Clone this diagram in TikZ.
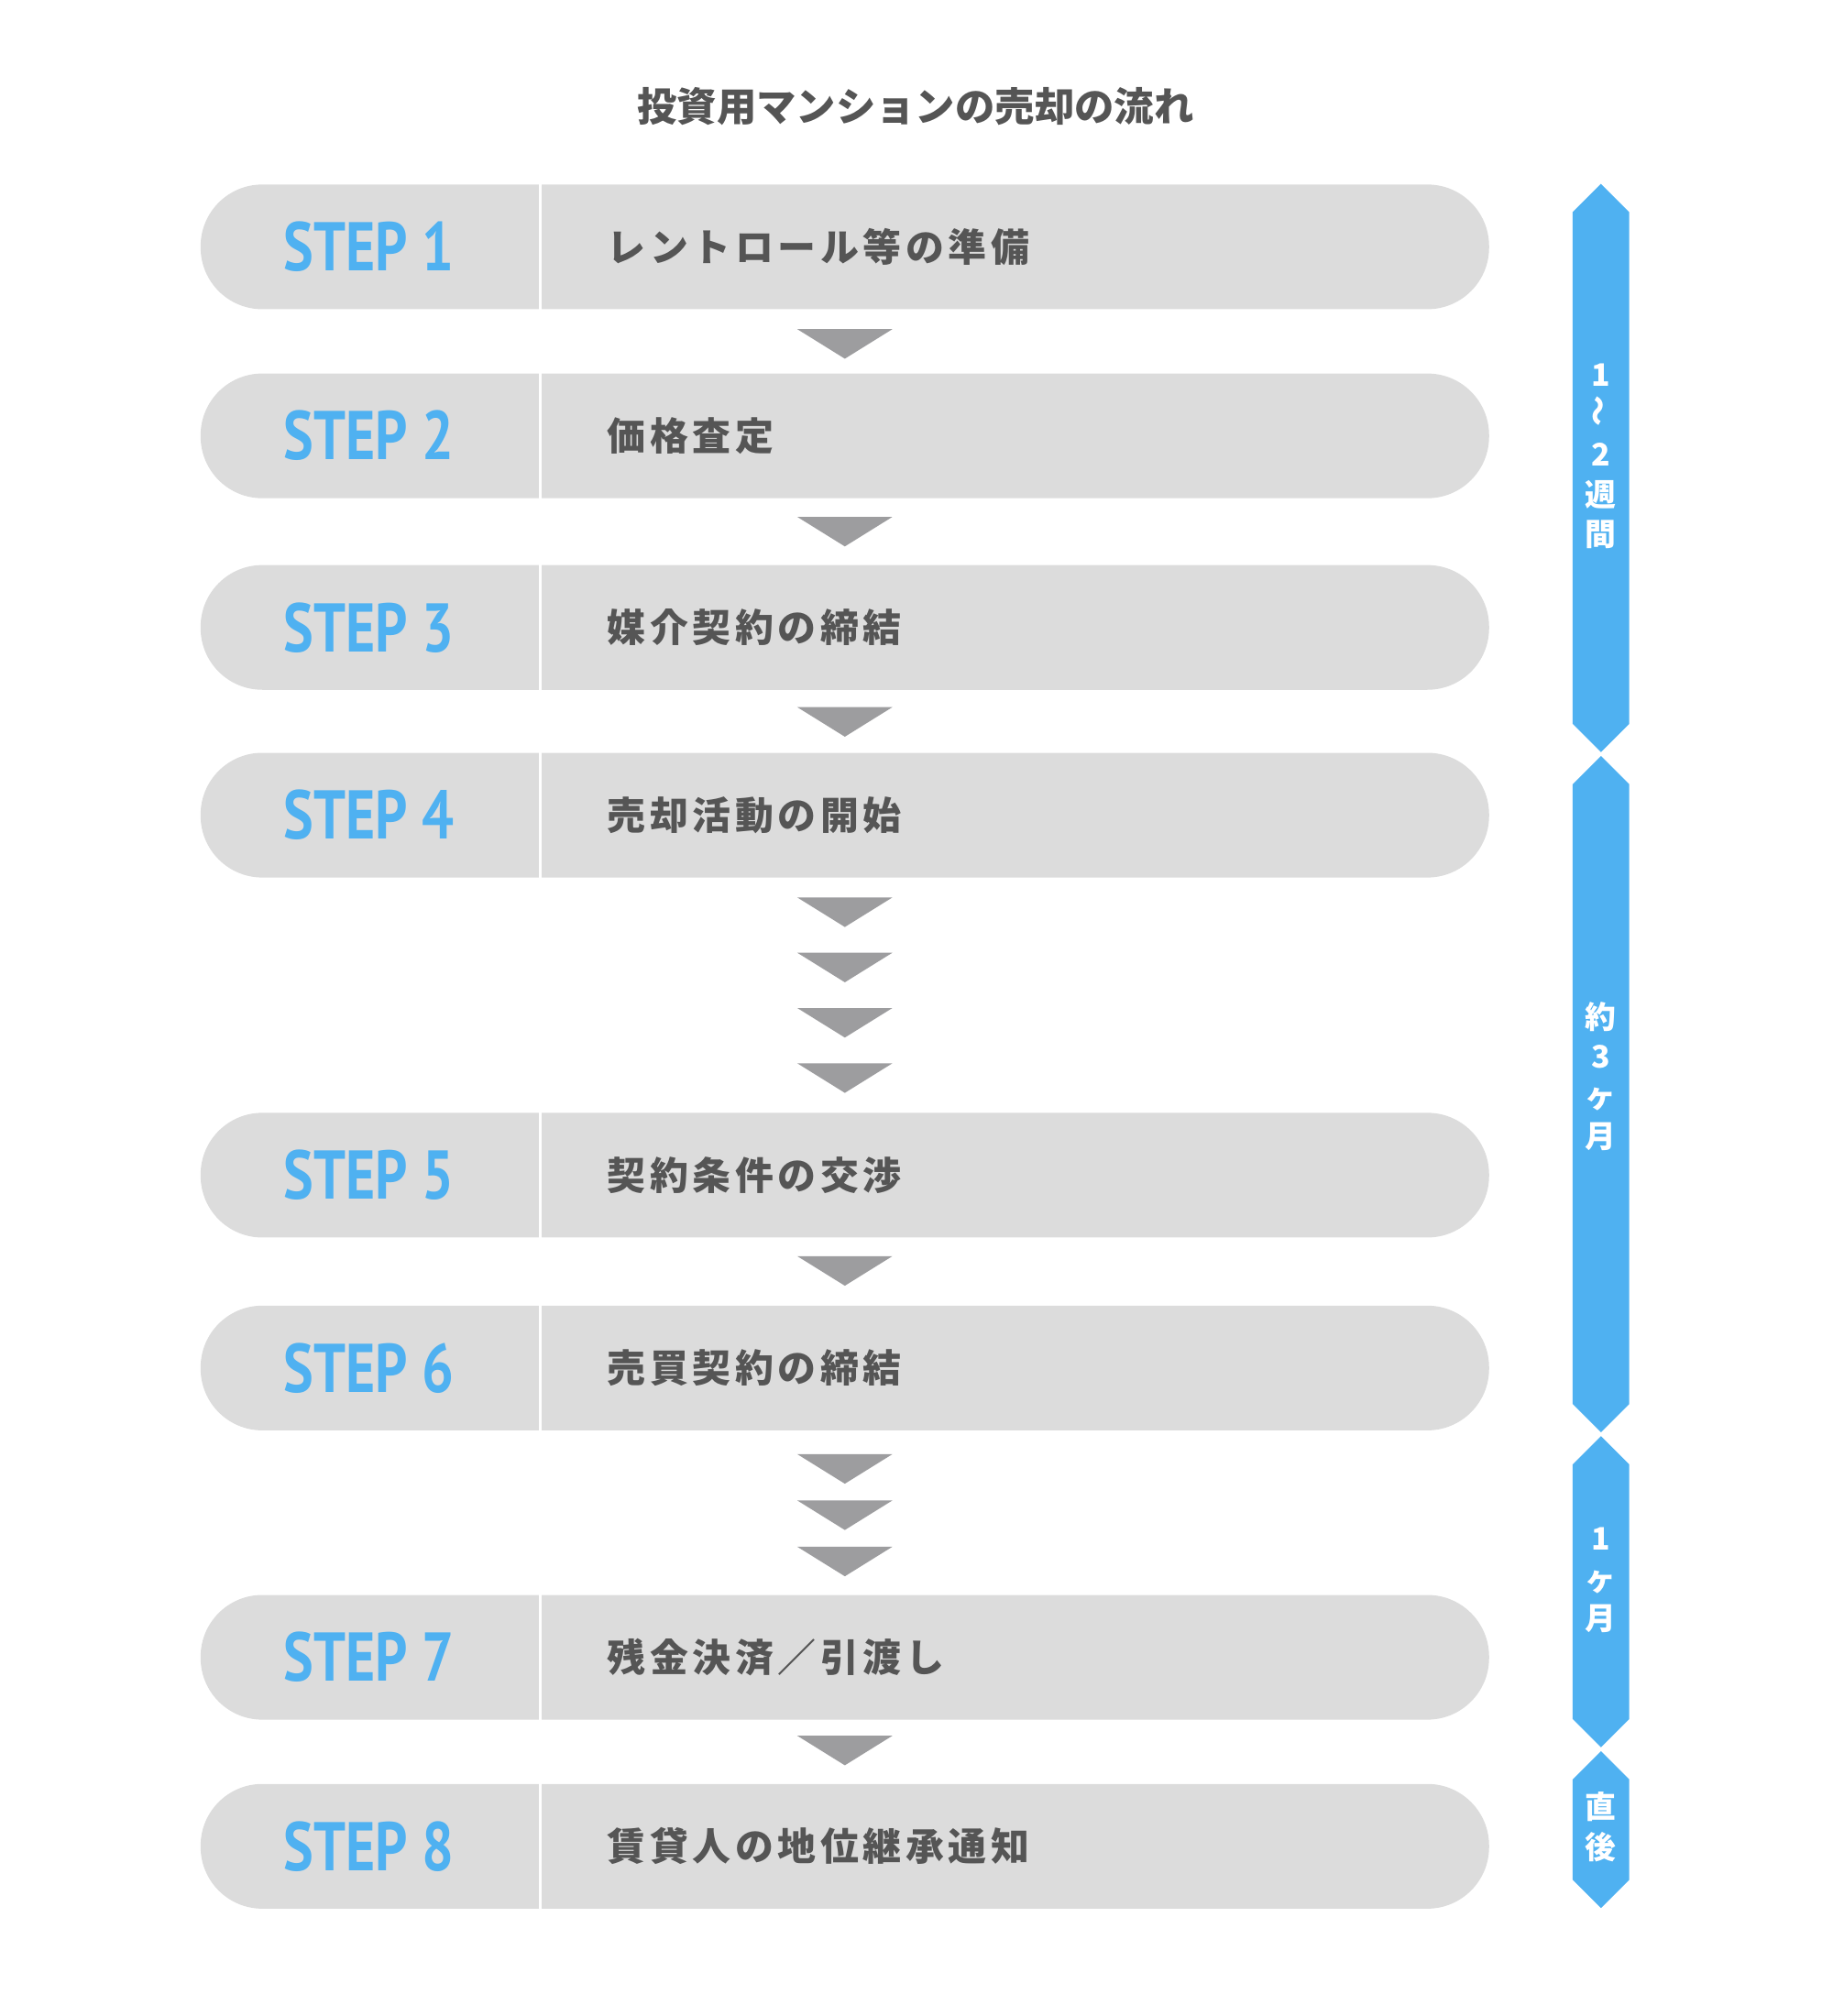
\documentclass[tikz,border=0pt]{standalone}
\usepackage{fontspec}
\usepackage{graphicx}
\usetikzlibrary{positioning,calc}
\newfontfamily\jp{Noto Sans CJK JP}
\newfontfamily\jpsp[LetterSpace=11]{Noto Sans CJK JP}
\newfontfamily\stepf[FakeStretch=0.82]{PT Sans}
\definecolor{boxgray}{HTML}{DCDCDC}
\definecolor{arwgray}{HTML}{9D9D9F}
\definecolor{stepblue}{HTML}{4FB1F1}
\definecolor{txtgray}{HTML}{555555}

\begin{document}
\begin{tikzpicture}[x=0.2mm, y=-0.2mm,
	   sb/.style={fill=boxgray, rounded corners=9.6mm, minimum width=200.4mm, minimum height=19.4mm, inner sep=0pt},
	   lb/.style={text=stepblue, font=\stepf\bfseries\fontsize{30.5pt}{30.5pt}\selectfont, inner sep=0pt},
	   tx/.style={anchor=west, text=txtgray, font=\jpsp\bfseries\fontsize{17pt}{17pt}\selectfont, inner sep=0pt},
	   pd/.style={text=white, align=center, inner sep=0pt, font=\jp\bfseries\fontsize{13.7pt}{17.6pt}\selectfont},
	   arw/.style={fill=arwgray},
	   bar/.style={fill=stepblue}]
	  \useasboundingbox (0,0) rectangle (1425,1568);
	  \node[text=txtgray, font=\jp\bfseries\fontsize{17.6pt}{17.6pt}\selectfont, inner sep=0pt] (title) at (712,83) {投資用マンションの売却の流れ};
	  % step boxes
	  \node[sb] (s1) at (657,192) {};
	  \node[sb] (s2) at (657,339) {};
	  \node[sb] (s3) at (657,488) {};
	  \node[sb] (s4) at (657,634) {};
	  \node[sb] (s5) at (657,914) {};
	  \node[sb] (s6) at (657,1064) {};
	  \node[sb] (s7) at (657,1289) {};
	  \node[sb] (s8) at (657,1436) {};
	  \coordinate (dv) at (420,0);
	  \foreach \i in {1,...,8}
	    \draw[white, line width=0.45mm] (s\i.north -| dv) -- (s\i.south -| dv);
	  \node[lb] (l1) at (287,192) {STEP 1};
	  \node[lb] (l2) at (287,339) {STEP 2};
	  \node[lb] (l3) at (287,488) {STEP 3};
	  \node[lb] (l4) at (287,634) {STEP 4};
	  \node[lb] (l5) at (287,914) {STEP 5};
	  \node[lb] (l6) at (287,1064) {STEP 6};
	  \node[lb] (l7) at (287,1289) {STEP 7};
	  \node[lb] (l8) at (287,1436) {STEP 8};
	  \node[tx] (t1) at (472,192) {レントロール等の準備};
	  \node[tx] (t2) at (472,339) {価格査定};
	  \node[tx] (t3) at (472,488) {媒介契約の締結};
	  \node[tx] (t4) at (472,634) {売却活動の開始};
	  \node[tx] (t5) at (472,914) {契約条件の交渉};
	  \node[tx] (t6) at (472,1064) {売買契約の締結};
	  \node[tx] (t7) at (472,1289) {残金決済／引渡し};
	  \node[tx] (t8) at (472,1436) {賃貸人の地位継承通知};
	  % arrows between steps
	  \foreach \y in {256,402,550,698,741,784,827,977,1131,1167,1203,1350}
	    \fill[arw] (620,\y) -- (694,\y) -- (657,\y+23) -- cycle;
	  % period bar
	  \foreach \t/\b in {143/585, 588/1114, 1117/1359, 1362/1484}
	    \fill[bar] (1245,\t) -- (1267,\t+22) -- (1267,\b-22) -- (1245,\b) -- (1223,\b-22) -- (1223,\t+22) -- cycle;
	  \node[pd] (p1) at (1245,355) {1\\\rotatebox{90}{〜}\\2\\週\\間};
	  \node[pd] (p2) at (1245,837) {約\\3\\ヶ\\月};
	  \node[pd] (p3) at (1245,1229) {1\\ヶ\\月};
	  \node[pd] (p4) at (1245,1421) {直\\後};
	\end{tikzpicture}
\end{document}
